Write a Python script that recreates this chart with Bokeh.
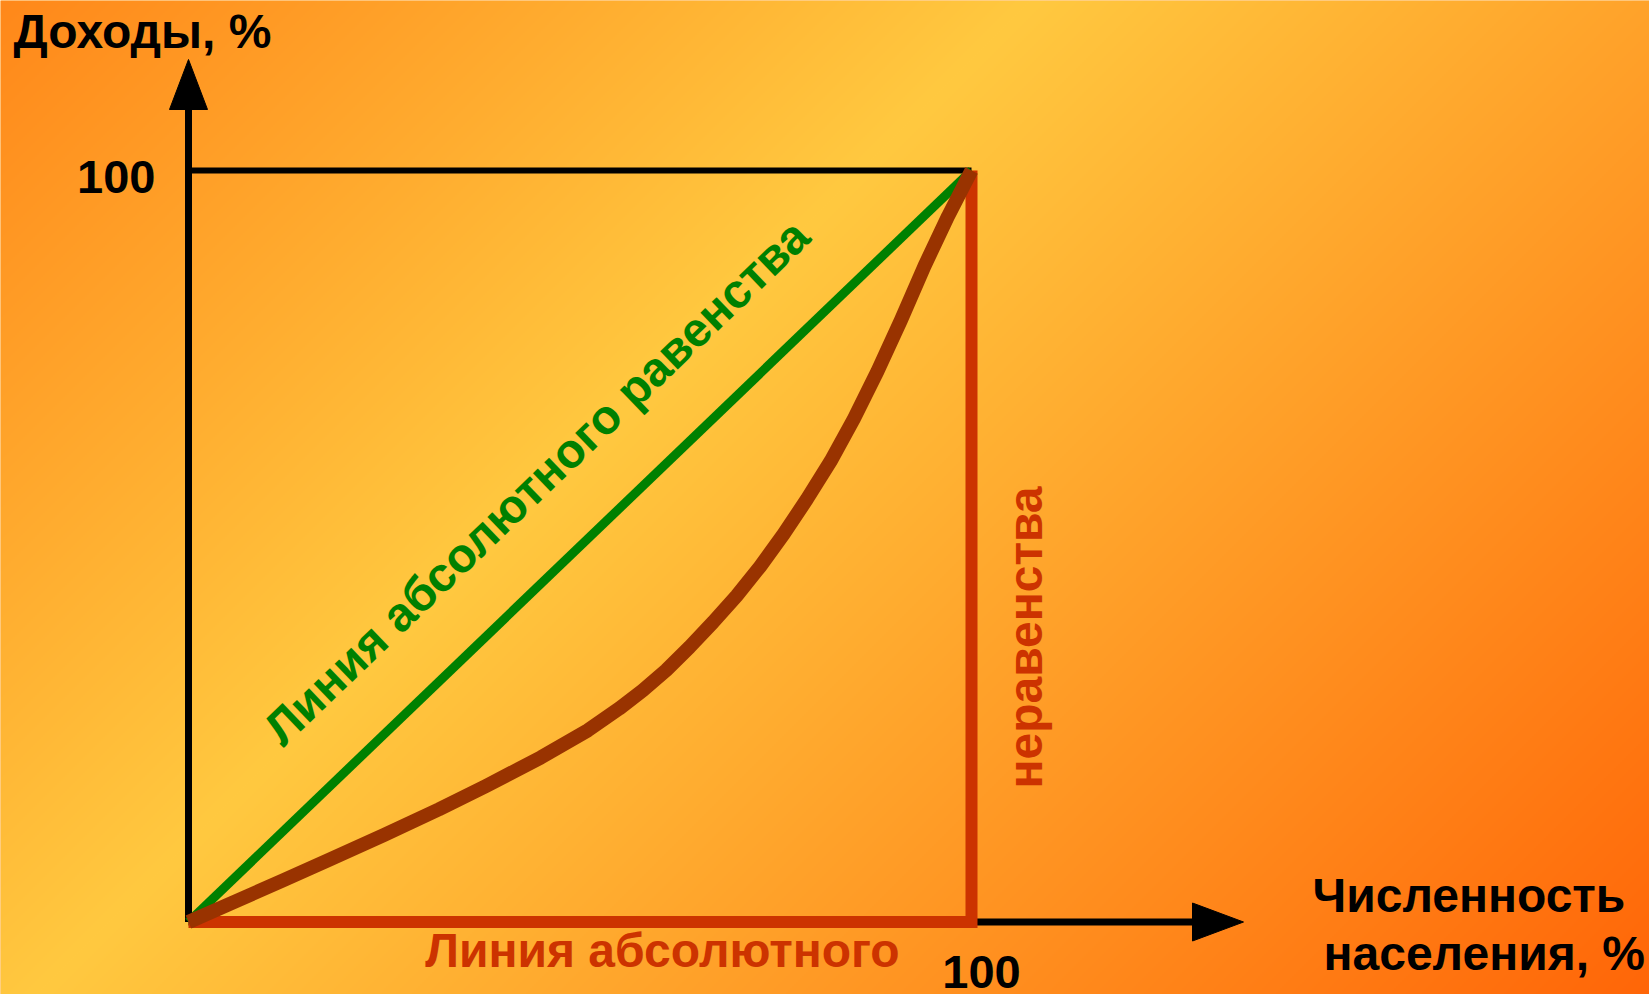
import numpy as np
from bokeh.plotting import figure
from bokeh.embed import file_html
from bokeh.resources import INLINE
from bokeh.core.properties import value

# ---------------- data ----------------
population = [0, 6, 12, 18, 25, 32, 38, 45, 51, 55, 58, 61, 64, 67, 70, 73, 76,
              79, 82, 85, 88, 91, 94, 97, 100]
income = [0, 2.75, 5.5, 8.3, 11.6, 15.0, 18.1, 21.9, 25.5, 28.4, 30.8, 33.5, 36.6,
          39.9, 43.4, 47.3, 51.6, 56.3, 61.3, 67.0, 73.3, 80.1, 87.3, 93.9, 100]
equality_x = [0, 100]
equality_y = [0, 100]
tick_label = "100"
y_title = "Доходы, %"
x_title = ["Численность", "населения, %"]
equality_label = "Линия абсолютного равенства"
inequality_label = ["Линия абсолютного", "неравенства"]

# ---------------- layout (screen pixels) ----------------
W, H, OFF = 1649, 994, 0
PX0, PX100 = 188.0, 971.0      # screen X of population 0 / 100
PY0, PY100 = 921.5, 170.0      # screen Y of income 0 / 100
kx = (PX100 - PX0) / 100.0
ky = (PY0 - PY100) / 100.0


def dx(X):
    return (X - PX0) / kx


def dy(Y):
    return (PY0 - Y) / ky


x0, x1 = dx(OFF), dx(OFF + W)
y0, y1 = dy(OFF + H), dy(OFF)

p = figure(width=W, height=H, x_range=(x0, x1), y_range=(y0, y1),
           x_axis_type=None, y_axis_type=None, tools="", toolbar_location=None,
           output_backend="svg", min_border=0)
p.grid.visible = False
p.outline_line_color = None
p.background_fill_color = "#FFA830"
p.border_fill_color = "#FFA830"

# ---------------- background gradient ----------------
step = 2
hh, ww = H // step, int(np.ceil(W / step))
cols = OFF + (np.arange(ww) + 0.5) * step
rows_top = OFF + H - (np.arange(hh) + 0.5) * step
S = cols[None, :] + rows_top[:, None]
stops_s = [0.0, 1030.0, 2643.0]
R = np.interp(S, stops_s, [255, 255, 255])
G = np.interp(S, stops_s, [136, 201, 102])
B = np.interp(S, stops_s, [26, 64, 8])
img = np.empty((hh, ww), dtype=np.uint32)
view = img.view(dtype=np.uint8).reshape((hh, ww, 4))
view[:, :, 0] = R.astype(np.uint8)
view[:, :, 1] = G.astype(np.uint8)
view[:, :, 2] = B.astype(np.uint8)
view[:, :, 3] = 255
p.image_rgba(image=[img], x=x0, y=y0, dw=(ww * step) / kx, dh=(hh * step) / ky)

xmax = population[-1]
ymax = income[-1]

# ---------------- axes with arrows ----------------
p.line([0, 0], [0, dy(109)], line_color="black", line_width=7, line_cap="butt")
p.line([0, dx(1192)], [0, 0], line_color="black", line_width=7, line_cap="butt")
p.patch([dx(PX0 - 19), dx(PX0), dx(PX0 + 19)], [dy(109), dy(59), dy(109)],
        fill_color="black", line_color="black", line_width=1)
p.patch([dx(1192), dx(1243), dx(1192)], [dy(PY0 - 19), dy(PY0), dy(PY0 + 19)],
        fill_color="black", line_color="black", line_width=1)

# top of box
p.line([0, xmax], [ymax, ymax], line_color="black", line_width=6, line_cap="butt")

# line of absolute inequality
p.line([0, xmax, xmax], [0, 0, ymax], line_color="#CC3300", line_width=12,
       line_join="miter", line_cap="butt")

# line of absolute equality
p.line(equality_x, equality_y, line_color="#008000", line_width=9, line_cap="butt")

# Lorenz curve
p.line(population, income, line_color="#993300", line_width=14, line_cap="butt",
       line_join="round")

# ---------------- texts ----------------
font = value("Liberation Sans")


def label(X, Y, txt, size, color, align, angle=0.0):
    # X, Y: wanted baseline anchor on screen; compensate renderer baseline offset
    f = 0.36 * size
    ax = X - f * np.sin(angle)
    ay = Y - f * np.cos(angle)
    p.text(x=[dx(ax)], y=[dy(ay)], text=[txt], text_font=font,
           text_font_style="bold", text_font_size=f"{size}px", text_color=color,
           text_align=align, text_baseline="alphabetic", angle=angle)


label(13, 48, y_title, 48, "black", "left")
label(155, 193, tick_label, 47, "black", "right")
label(981, 988, tick_label, 47, "black", "center")
label(1312, 912, x_title[0], 48, "black", "left")
label(1323, 970, x_title[1], 48, "black", "left")

ang = float(np.arctan2(PY0 - PY100, PX100 - PX0))
label(548, 494, equality_label, 48, "#008000", "center", ang)
label(662, 967, inequality_label[0], 48, "#CC3300", "center")
label(1042, 637, inequality_label[1], 48, "#CC3300", "center", np.pi / 2)

open("out.html", "w").write(file_html(p, INLINE))
